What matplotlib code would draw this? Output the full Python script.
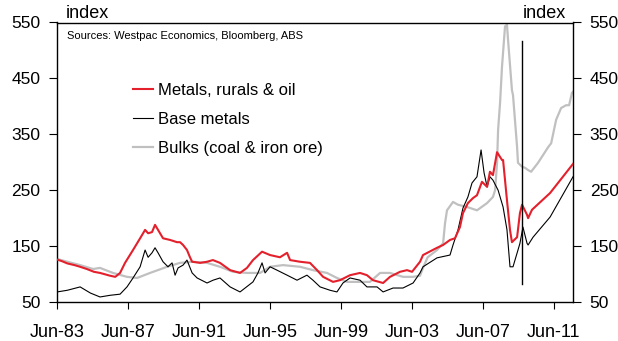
import matplotlib.pyplot as plt

plt.rcParams["font.family"] = ["Liberation Sans", "DejaVu Sans"]

# commodity price indices, decimal year -> index level
metalsYears = [1983.42, 1983.7, 1984.0, 1984.4, 1984.72, 1985.1, 1985.5, 1985.84, 1986.41,
               1986.7, 1986.97, 1987.25, 1987.7, 1988.1, 1988.38, 1988.55, 1988.77, 1988.94,
               1989.11, 1989.39, 1989.79, 1990.18, 1990.35, 1990.52, 1990.74, 1990.91,
               1991.03, 1991.48, 1991.87, 1992.2, 1992.6, 1993.17, 1993.73, 1994.12, 1994.46,
               1994.97, 1995.42, 1995.98, 1996.38, 1996.55, 1997.11, 1997.67, 1998.07,
               1998.41, 1998.97, 1999.36, 1999.93, 2000.49, 2000.88, 2001.22, 2001.79,
               2002.18, 2002.74, 2003.14, 2003.42, 2003.87, 2004.04, 2004.83, 2005.17,
               2005.56, 2005.84, 2006.12, 2006.29, 2006.57, 2006.86, 2007.08, 2007.36,
               2007.65, 2007.81, 2007.98, 2008.21, 2008.49, 2008.55, 2008.77, 2008.94,
               2009.05, 2009.34, 2009.5, 2009.62, 2009.9, 2009.96, 2010.18, 2011.2, 2012.49]
metalsIdx = [126, 123, 119, 116, 113, 109, 104, 102, 97,
             95, 102, 120, 143, 164, 179, 173, 175, 188,
             179, 164, 161, 157, 157, 152, 143, 130,
             122, 120, 122, 125, 120, 107, 102, 111, 125,
             140, 134, 130, 138, 125, 122, 120, 107,
             95, 86, 89, 98, 102, 98, 89, 84,
             95, 104, 107, 104, 122, 134, 147, 152,
             161, 164, 184, 209, 227, 236, 241, 265,
             256, 283, 277, 318, 304, 304, 232, 179,
             157, 166, 209, 224, 206, 200, 215, 245, 297]

baseYears = [1983.42, 1984.0, 1984.72, 1985.3, 1985.84, 1986.41, 1986.97, 1987.36, 1987.7,
             1988.1, 1988.38, 1988.55, 1988.77, 1988.94, 1989.11, 1989.39, 1989.67, 1989.9,
             1990.07, 1990.24, 1990.52, 1990.74, 1991.03, 1991.31, 1991.87, 1992.21, 1992.6,
             1993.17, 1993.73, 1994.46, 1994.74, 1994.97, 1995.14, 1995.42, 1995.81, 1996.38,
             1996.94, 1997.5, 1997.84, 1998.24, 1998.8, 1999.19, 1999.53, 1999.93, 2000.49,
             2000.88, 2001.45, 2001.79, 2002.35, 2002.91, 2003.48, 2003.87, 2004.04, 2004.83,
             2005.56, 2005.73, 2006.01, 2006.29, 2006.57, 2006.8, 2007.08, 2007.31, 2007.48,
             2007.65, 2007.81, 2007.98, 2008.27, 2008.55, 2008.77, 2008.94, 2009.11, 2009.39,
             2009.5, 2009.67, 2009.9, 2009.96, 2010.24, 2011.2, 2012.49]
baseIdx = [68, 71, 77, 66, 59, 62, 64, 77, 93,
           113, 143, 130, 138, 147, 138, 122, 113, 120,
           98, 111, 116, 125, 102, 93, 84, 89, 93,
           77, 68, 86, 102, 120, 102, 113, 107, 98,
           89, 98, 89, 77, 71, 68, 84, 93, 89,
           77, 77, 68, 75, 75, 84, 102, 113, 129,
           134, 152, 179, 218, 238, 263, 274, 322, 281,
           256, 274, 268, 250, 220, 179, 113, 113, 143,
           155, 184, 155, 152, 166, 202, 274]

bulksYears = [1983.42, 1984.0, 1984.72, 1985.45, 1985.84, 1986.57, 1987.36, 1987.93, 1988.66,
              1989.62, 1990.35, 1991.08, 1991.87, 1992.6, 1993.34, 1994.12, 1994.86, 1995.42,
              1996.15, 1997.11, 1997.84, 1998.63, 1999.19, 1999.76, 2000.49, 2001.05, 2001.62,
              2002.18, 2002.91, 2003.48, 2003.87, 2004.04, 2004.3, 2004.83, 2005.17, 2005.28,
              2005.39, 2005.73, 2006.01, 2006.52, 2007.08, 2007.65, 2007.98, 2008.1, 2008.21,
              2008.27, 2008.38, 2008.49, 2008.66, 2008.77, 2008.83, 2009.05, 2009.11, 2009.34,
              2009.39, 2009.62, 2009.79, 2009.96, 2010.13, 2010.52, 2011.09, 2011.26, 2011.54,
              2011.82, 2012.1, 2012.27, 2012.43, 2012.49]
bulksIdx = [127, 122, 116, 109, 111, 102, 95, 93, 102,
            113, 120, 122, 120, 113, 104, 102, 102, 113,
            116, 113, 107, 102, 93, 86, 86, 86, 102,
            102, 95, 95, 97, 111, 130, 143, 155, 191,
            214, 229, 224, 220, 214, 227, 238, 250, 299,
            358, 406, 471, 543, 546, 519, 429, 420, 327,
            299, 292, 290, 286, 283, 299, 327, 334, 376,
            397, 402, 402, 424, 426]

# marker between history and projection
splitYear = 2009.6
splitRange = [83, 517]

tickYears = [1983, 1987, 1991, 1995, 1999, 2003, 2007, 2011]
tickLabels = [f"Jun-{y % 100:02d}" for y in tickYears]
yTicks = [50, 150, 250, 350, 450, 550]

#%%
fig = plt.figure(figsize=(6.18, 3.41), dpi=100)
ax = fig.add_axes([57 / 618, 39 / 341, 516 / 618, 279.5 / 341])

ax.plot(bulksYears, bulksIdx, color="#c0c0c0", lw=1.6, label="Bulks (coal & iron ore)", zorder=2)
ax.plot(baseYears, baseIdx, color="black", lw=0.8, label="Base metals", zorder=3)
ax.plot(metalsYears, metalsIdx, color="#e3202b", lw=1.5, label="Metals, rurals & oil", zorder=4)
ax.plot([splitYear, splitYear], splitRange, color="black", lw=1.0, zorder=5)

ax.set_xlim(1983.42, 2012.49)
ax.set_ylim(50, 550)
ax.set_xticks([y + 5 / 12 for y in tickYears], tickLabels)
ax.set_yticks(yTicks)
ax.tick_params(axis="x", direction="out", length=5, pad=11, labelsize=13)
ax.tick_params(axis="y", direction="out", length=6, pad=6, labelsize=12.5,
               right=True, labelright=True)
for s in ax.spines.values():
    s.set_linewidth(1.0)

ax.text(0.016, 1.0, "index", transform=ax.transAxes, fontsize=13, ha="left", va="bottom")
ax.text(0.986, 1.0, "index", transform=ax.transAxes, fontsize=13, ha="right", va="bottom")
ax.text(0.019, 0.952, "Sources: Westpac Economics, Bloomberg, ABS",
        transform=ax.transAxes, fontsize=8, ha="left", va="center")

handles, labels = ax.get_legend_handles_labels()
order = [2, 1, 0]
ax.legend([handles[i] for i in order], [labels[i] for i in order],
          loc="upper left", bbox_to_anchor=(0.147, 0.785), frameon=False,
          fontsize=12, handlelength=1.2, handletextpad=0.3, labelspacing=0.85,
          borderpad=0, borderaxespad=0)

fig.savefig("out.png", dpi=100)
